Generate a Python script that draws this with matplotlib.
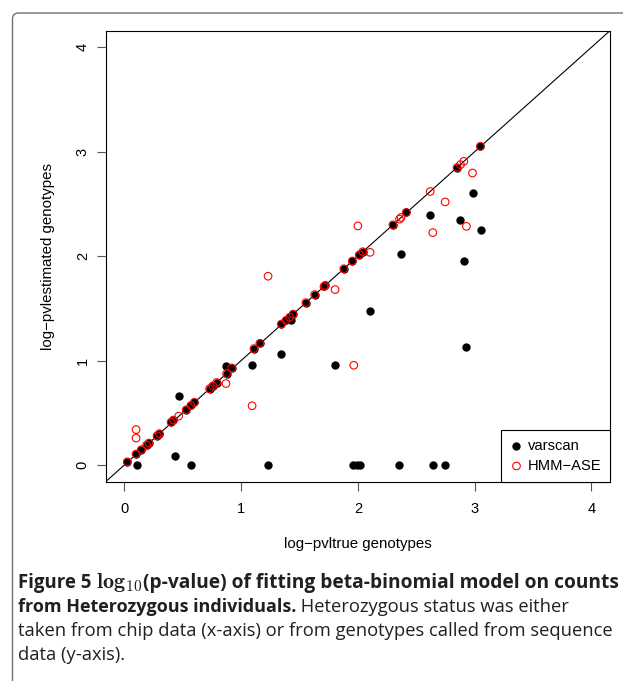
import matplotlib
matplotlib.use("Agg")
import matplotlib.pyplot as plt
from matplotlib.patches import FancyBboxPatch

plt.rcParams["font.family"] = ["Liberation Sans", "DejaVu Sans"]
plt.rcParams["mathtext.fontset"] = "cm"

# points sitting on the diagonal, shown by both methods
diag_x = [0.025, 0.10, 0.145, 0.19, 0.21, 0.28, 0.30, 0.40, 0.42, 0.53, 0.57,
          0.60, 0.73, 0.757, 0.79, 0.875, 0.92, 1.11, 1.16, 1.345, 1.385,
          1.415, 1.445, 1.555, 1.63, 1.71, 1.72, 1.88, 1.953, 2.013, 2.042,
          2.30, 2.415, 2.85, 3.05]
diag_y = [0.03, 0.105, 0.147, 0.19, 0.21, 0.28, 0.30, 0.41, 0.43, 0.53, 0.57,
          0.60, 0.73, 0.757, 0.79, 0.875, 0.93, 1.115, 1.165, 1.35, 1.385,
          1.415, 1.445, 1.555, 1.632, 1.71, 1.72, 1.88, 1.954, 2.014, 2.043,
          2.30, 2.419, 2.849, 3.052]

# varscan only
vs_x = [0.105, 0.43, 0.57, 0.465, 0.87, 1.094, 1.345, 1.43, 1.808, 2.108,
        2.37, 2.622, 2.879, 2.912, 2.93, 2.984, 3.059, 1.231, 1.96, 1.99,
        2.02, 2.356, 2.642, 2.75]
vs_y = [0.0, 0.085, 0.0, 0.656, 0.95, 0.958, 1.062, 1.385, 0.96, 1.474,
        2.02, 2.396, 2.35, 1.954, 1.134, 2.603, 2.255, 0.0, 0.0, 0.0,
        0.0, 0.0, 0.0, 0.0]

# HMM-ASE only
hmm_x = [0.10, 0.10, 0.465, 0.87, 1.094, 1.231, 1.805, 1.965, 2.0, 2.105,
         2.357, 2.37, 2.62, 2.748, 2.642, 2.93, 2.982, 2.879, 2.908]
hmm_y = [0.339, 0.258, 0.468, 0.78, 0.567, 1.808, 1.68, 0.955, 2.29, 2.037,
         2.355, 2.371, 2.62, 2.52, 2.226, 2.286, 2.797, 2.877, 2.909]

ticks = [0, 1, 2, 3, 4]

fig = plt.figure(figsize=(6.23, 6.81), dpi=100)
ax = fig.add_axes([0.1697, 0.2927, 0.8094, 0.6622])
ax.set_xlim(-0.16, 4.16)
ax.set_ylim(-0.16, 4.16)

ax.axline((0, 0), slope=1, color="black", lw=0.8, zorder=2)
ax.scatter(diag_x + vs_x, diag_y + vs_y, s=36, c="black", linewidths=0,
           zorder=3, label="varscan")
ax.scatter(diag_x + hmm_x, diag_y + hmm_y, s=30, facecolors="none",
           edgecolors="red", linewidths=0.8, zorder=4, label="HMM\u2212ASE")

ax.set_xticks(ticks)
ax.set_yticks(ticks)
ax.tick_params(direction="out", length=6.5, width=0.8, color="#555555",
               labelsize=10.5)
ax.tick_params(axis="x", pad=8)
ax.tick_params(axis="y", pad=5, labelrotation=90)
for lab in ax.get_yticklabels():
    lab.set_va("center")
for sp in ax.spines.values():
    sp.set_linewidth(0.8)

ax.set_xlabel("log\u2212pvltrue genotypes", fontsize=10.8, labelpad=15)
ax.set_ylabel("log\u2212pvlestimated genotypes", fontsize=10.8, labelpad=15)

leg = ax.legend(loc="lower right", fancybox=False, edgecolor="black",
                borderaxespad=0, fontsize=10.6, handletextpad=0.3,
                borderpad=0.6, labelspacing=0.42, handlelength=0.9,
                scatterpoints=1)
leg.get_frame().set_linewidth(0.8)
leg.get_frame().set_alpha(None)

# rounded frame around the figure panel
frame = FancyBboxPatch((0.125, -0.5), 7.0, 7.18,
                       boxstyle="round,pad=0,rounding_size=0.06",
                       transform=fig.dpi_scale_trans, facecolor="none",
                       edgecolor="#707070", lw=1.0)
fig.add_artist(frame)

cap = dict(family=["Open Sans", "DejaVu Sans"], size=13.2, va="baseline",
           color="#231f20")
x0 = 18 / 623
base = [1 - 588 / 681, 1 - 612 / 681, 1 - 636 / 681, 1 - 660 / 681]


def after(prev, text, y, **kw):
    # place text right after a previous text artist on the same baseline
    return ax.annotate(text, xy=(1, y), xycoords=(prev, "figure fraction"),
                       annotation_clip=False, **kw)


t = fig.text(x0, base[0], "Figure 5 ", weight="bold", **{**cap, "size": 13.4})
t = after(t, r"$\mathbf{log}_{\mathbf{10}}$", base[0],
          **{**cap, "size": 16})
after(t, "(p-value) of fitting beta-binomial model on counts", base[0],
      weight="bold", **{**cap, "size": 13.8})
t = fig.text(x0, base[1], "from Heterozygous individuals.", weight="bold",
             **{**cap, "size": 13.0})
after(t, " Heterozygous status was either", base[1], **cap)
fig.text(x0, base[2],
         "taken from chip data (x-axis) or from genotypes called from sequence",
         **cap)
fig.text(x0, base[3], "data (y-axis).", **cap)

fig.savefig("out.png", dpi=100)
